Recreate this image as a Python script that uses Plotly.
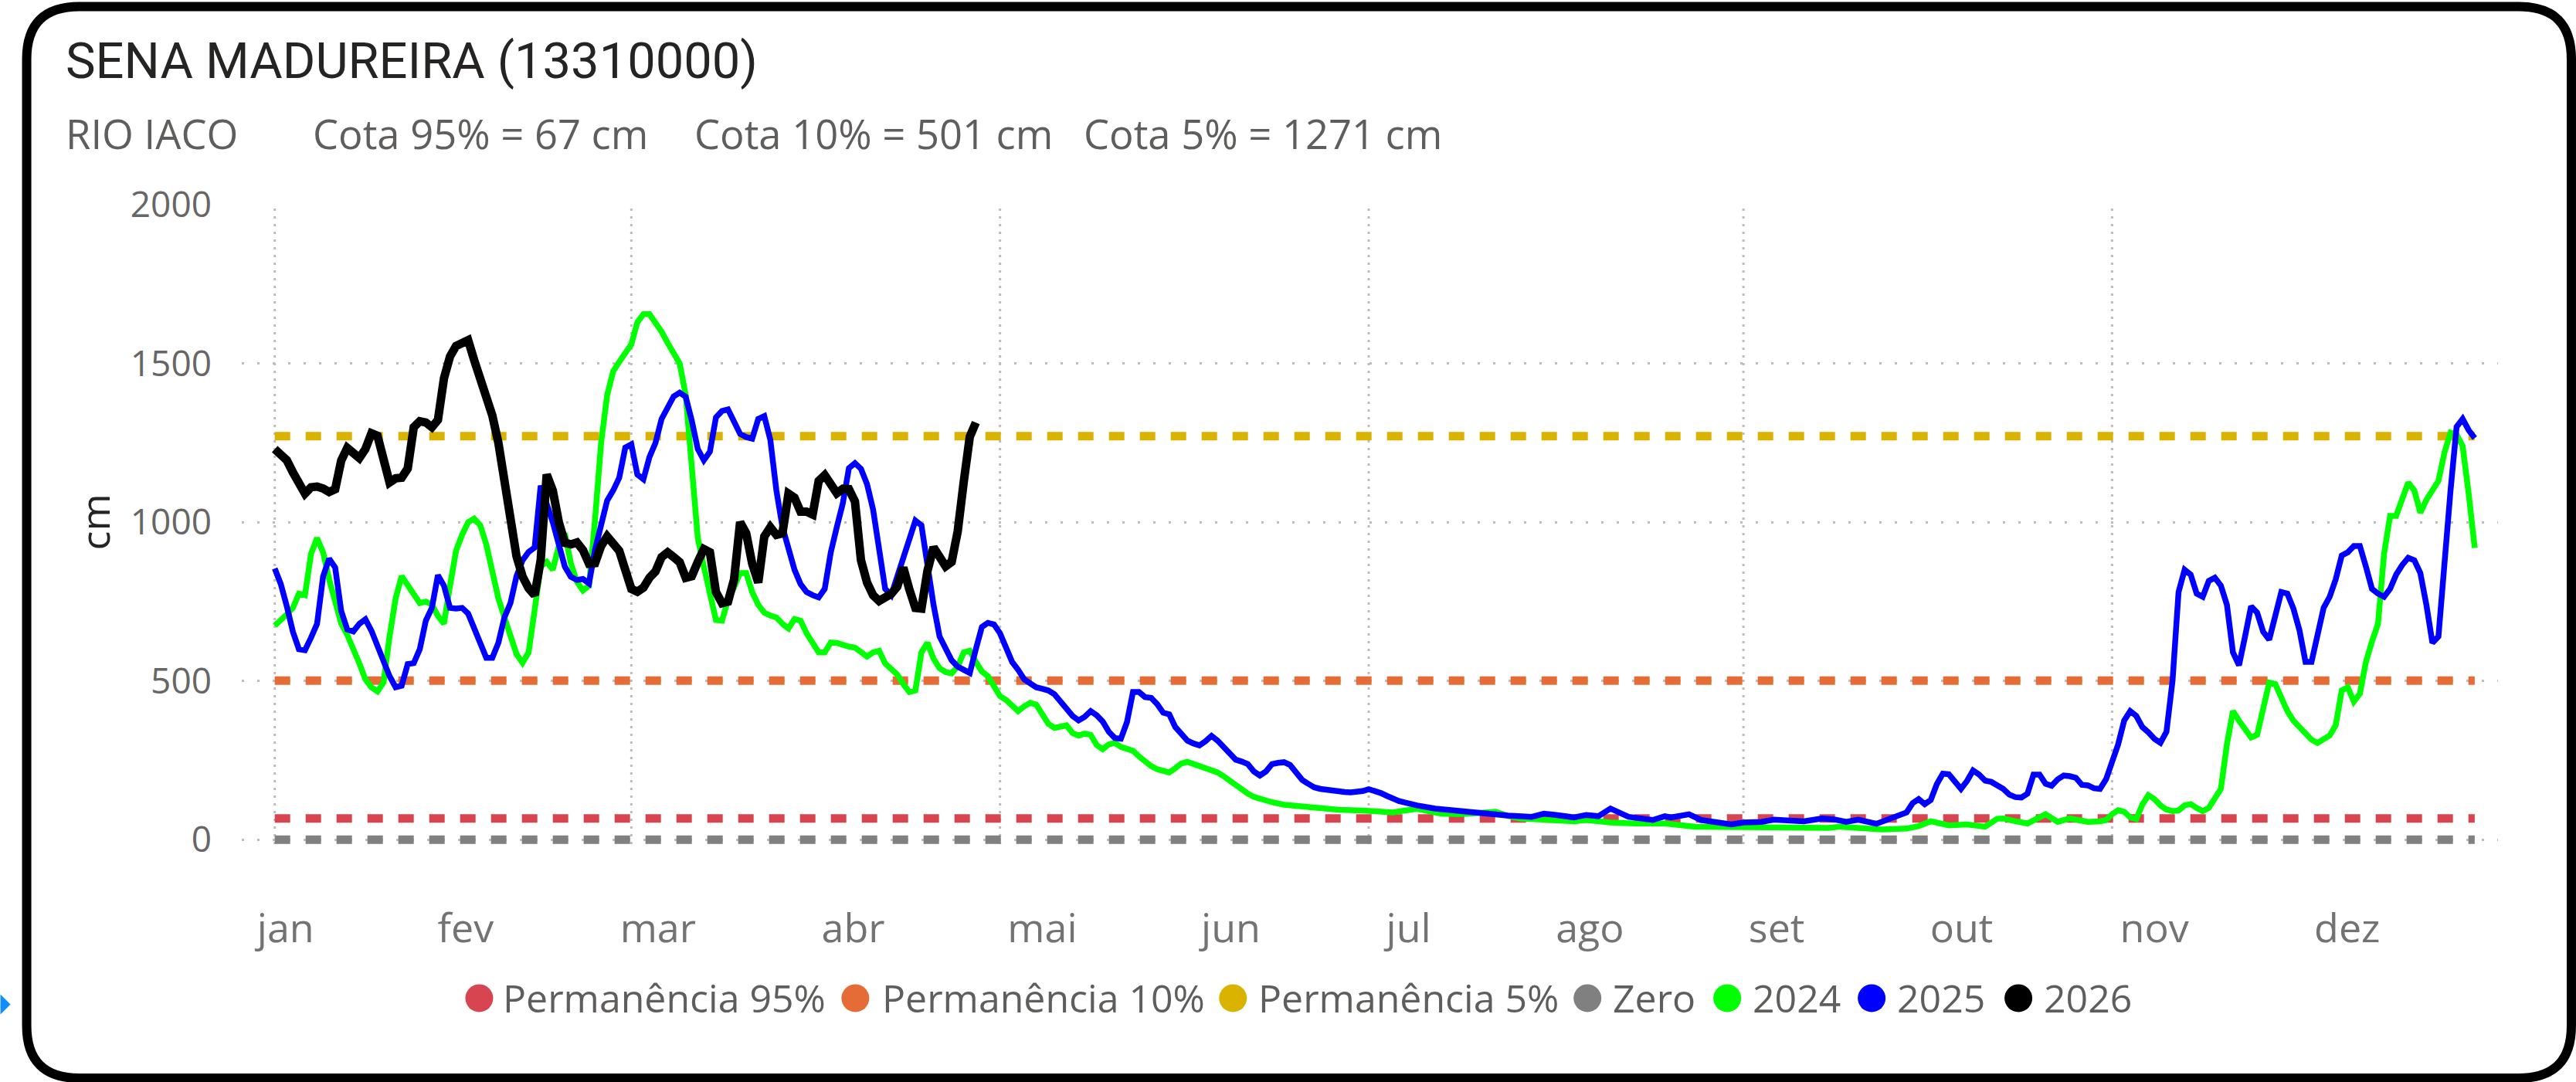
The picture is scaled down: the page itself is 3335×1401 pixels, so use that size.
import plotly.graph_objects as go
from datetime import datetime, timedelta

# ---------------------------------------------------------------- data
month_labels = ["jan", "fev", "mar", "abr", "mai", "jun", "jul", "ago", "set", "out", "nov", "dez"]
month_start_day = [0, 31, 59, 90, 120, 151, 181, 212, 243, 273, 304, 334]   # day offset from 1 Jan
label_center_day = [1.8, 31.6, 63.4, 95.7, 127.0, 158.2, 187.6, 217.6, 248.5, 279.1, 311.0, 342.9]
grid_month_day = month_start_day[::2]

ref_names = ["Permanência 95%", "Permanência 10%", "Permanência 5%", "Zero"]
ref_values = [67, 501, 1271, 0]
ref_colors = ["#D64550", "#E66C37", "#D9B300", "#808080"]
ref_first_day = 0
ref_last_day = 364

series_names = ["2024", "2025", "2026"]
series_colors = ["#00FF00", "#0000FF", "#000000"]

day_2024 = list(range(0, 164)) + [
    165, 167, 170, 173, 176, 180, 185, 187, 189, 193, 196, 199, 202, 204, 206, 211, 215, 217,
    221, 225, 230, 235, 240, 246, 249, 254, 257, 259, 262, 266, 270, 272, 274, 277, 280, 283,
    285, 286, 288, 290, 293, 295, 297, 298, 300, 302] + list(range(303, 365))
cm_2024 = [
    674, 690, 710, 730, 775, 770, 900, 950, 905, 820,
    745, 680, 645, 605, 555, 505, 480, 467, 495, 640,
    760, 830, 800, 770, 745, 750, 740, 705, 680, 800,
    910, 960, 1000, 1011, 990, 930, 840, 760, 700, 640,
    585, 557, 590, 723, 860, 875, 850, 925, 965, 870,
    812, 785, 800, 1010, 1250, 1400, 1475, 1505, 1530, 1560,
    1630, 1655, 1655, 1630, 1600, 1565, 1532, 1500, 1400, 1180,
    950, 860, 770, 692, 690, 755, 795, 840, 840, 780,
    740, 715, 706, 700, 680, 665, 695, 690, 650, 620,
    590, 590, 621, 620, 612, 608, 605, 591, 577, 590,
    595, 555, 540, 520, 490, 465, 470, 590, 620, 570,
    540, 528, 524, 545, 590, 595, 560, 530, 515, 480,
    452, 440, 420, 405, 420, 431, 425, 395, 365, 352,
    355, 360, 336, 328, 334, 330, 298, 285, 300, 305,
    292, 286, 280, 262, 245, 232, 222, 216, 212, 225,
    240, 245, 238, 232, 226, 220, 212, 200, 185, 170,
    157, 145, 135, 128,
    118, 110, 104, 98, 94, 92, 86, 92, 97, 82, 80, 84, 88, 75, 67, 62, 58, 62,
    54, 51, 51, 41, 40, 41, 41, 40, 37, 41, 37, 32, 35, 43, 58, 45, 48, 41,
    66, 67, 58, 51, 80, 56, 67, 64, 56, 58,
    62, 80, 93, 88, 70, 65, 110,
    140, 128, 108, 95, 90, 92, 108, 112, 100, 90,
    100, 130, 160, 300, 405, 375, 345, 322, 330, 420,
    495, 490, 445, 405, 375, 355, 333, 315, 305, 318,
    328, 360, 470, 480, 435, 460, 560, 624, 680, 900,
    1020, 1020, 1080, 1125, 1100, 1030, 1070, 1100, 1130, 1220,
    1282, 1276, 1240, 1090, 919]

day_2025 = list(range(0, 190)) + [
    192, 196, 200, 204, 208, 210, 212, 215, 217, 219, 221, 222, 224, 228, 230, 231, 234, 236,
    239, 241, 243, 246, 248, 251, 253, 256, 258, 260, 262, 265, 266, 268] + list(range(269, 365))
cm_2025 = [
    854, 805, 735, 655, 600, 597, 636, 680, 829, 885,
    857, 720, 662, 656, 680, 694, 658, 609, 565, 515,
    480, 485, 553, 556, 600, 690, 730, 833, 800, 730,
    728, 730, 712, 665, 625, 573, 573, 620, 700, 745,
    830, 880, 906, 920, 1115, 1060, 1000, 930, 860, 828,
    818, 821, 807, 914, 1000, 1068, 1100, 1140, 1235, 1245,
    1150, 1135, 1205, 1250, 1325, 1365, 1396, 1408, 1395, 1320,
    1230, 1195, 1222, 1330, 1350, 1355, 1312, 1278, 1268, 1263,
    1325, 1334, 1259, 1100, 985, 910, 850, 805, 780, 770,
    763, 790, 905, 985, 1060, 1170, 1186, 1168, 1120, 1040,
    920, 790, 770, 830, 880, 940, 1005, 990, 860, 740,
    640, 600, 565, 545, 534, 525, 600, 670, 683, 678,
    650, 600, 560, 535, 505, 492, 480, 475, 470, 458,
    436, 412, 390, 376, 387, 405, 392, 372, 340, 320,
    318, 370, 465, 465, 449, 447, 427, 400, 395, 355,
    335, 312, 303, 297, 310, 327, 312, 290, 268, 252,
    246, 238, 215, 202, 215, 238, 242, 244, 235, 210,
    188, 176, 165, 160, 157, 153, 151, 150, 149, 150,
    153, 159, 155, 147, 138, 128, 122, 117, 112, 108,
    98, 90, 82, 76, 72, 82, 78, 70, 78, 74, 98, 90, 72, 62, 74, 70, 80, 62,
    51, 48, 54, 56, 63, 61, 58, 67, 64, 56, 63, 50, 58, 74,
    80, 86, 115, 128, 112, 125, 175, 208, 206, 185, 160,
    185, 218, 205, 186, 182, 172, 160, 142, 134, 133,
    145, 205, 205, 176, 170, 190, 202, 200, 195, 173,
    171, 162, 160, 190, 245, 300, 375, 405, 390, 355,
    338, 318, 305, 340, 500, 780, 850, 835, 775, 765,
    815, 825, 800, 740, 590, 549, 640, 735, 715, 655,
    630, 700, 780, 775, 728, 660, 560, 560, 640, 730,
    765, 820, 895, 905, 925, 925, 860, 790, 775, 765,
    790, 835, 865, 888, 880, 840, 740, 620, 640, 880,
    1100, 1300, 1325, 1290, 1265]

day_2026 = list(range(0, 117))
cm_2026 = [
    1230, 1212, 1195, 1157, 1125, 1090, 1110, 1112, 1106, 1095,
    1104, 1194, 1234, 1214, 1202, 1230, 1280, 1272, 1194, 1125,
    1138, 1140, 1169, 1299, 1318, 1314, 1299, 1322, 1453, 1522,
    1555, 1568, 1573, 1510, 1455, 1400, 1336, 1250, 1129, 1007,
    893, 829, 792, 770, 880, 1150, 1100, 1000, 935, 930,
    936, 912, 869, 871, 925, 955, 935, 910, 850, 790,
    781, 794, 825, 845, 890, 905, 890, 874, 825, 830,
    875, 915, 905, 780, 745, 750, 820, 1000, 965, 869,
    810, 955, 984, 960, 965, 1090, 1077, 1033, 1033, 1024,
    1130, 1148, 1120, 1091, 1105, 1104, 1065, 880, 810, 770,
    752, 762, 774, 797, 857, 788, 730, 728, 847, 921,
    884, 861, 875, 971, 1127, 1269, 1314]

# ---------------------------------------------------------------- geometry / style
W, H = 3335, 1401
BASE = datetime(2026, 1, 1)
PLOT_L, PLOT_R = 312.5, 3234.0
Y_ZERO_PX, CM_PX = 1087.0, 0.4108
Y_MIN, Y_MAX = -14, 2000
PLOT_T = Y_ZERO_PX - Y_MAX * CM_PX
PLOT_B = Y_ZERO_PX - Y_MIN * CM_PX
PW, PH = PLOT_R - PLOT_L, PLOT_B - PLOT_T
DAY_PX = 7.826
X0_PX = 355.2

def to_date(d):
    return BASE + timedelta(days=d)

def px_x(p):
    return (p - PLOT_L) / PW

def px_y(p):
    return (PLOT_B - p) / PH

x_lo = to_date((PLOT_L - X0_PX) / DAY_PX)
x_hi = to_date((PLOT_R - X0_PX) / DAY_PX)

SANS = "Open Sans, Noto Sans, sans-serif"
GRID = "#BDBDBD"

fig = go.Figure()

for name, val, col in zip(ref_names, ref_values, ref_colors):
    fig.add_trace(go.Scatter(
        x=[to_date(ref_first_day), to_date(ref_last_day)], y=[val, val], mode="lines",
        name=name, line=dict(color=col, width=11, dash="20px,20px"),
        showlegend=False, hoverinfo="skip"))

for name, days, vals, col, w in zip(series_names, [day_2024, day_2025, day_2026],
                                    [cm_2024, cm_2025, cm_2026], series_colors, [7.5, 7.5, 11]):
    fig.add_trace(go.Scatter(
        x=[to_date(d) for d in days], y=vals, mode="lines", name=name,
        line=dict(color=col, width=w), showlegend=False, hoverinfo="skip"))

shapes = []
for d in grid_month_day:
    shapes.append(dict(type="line", xref="x", yref="paper", x0=to_date(d), x1=to_date(d),
                       y0=0, y1=1, layer="below",
                       line=dict(color=GRID, width=3, dash="3px,7px")))

# outer rounded border of the visual
bx1, bx2, by1, by2, r = 34, 3329, 9, 1395.5, 68
pts = [("M", bx1 + r, by1), ("L", bx2 - r, by1), ("Q", bx2, by1, bx2, by1 + r),
       ("L", bx2, by2 - r), ("Q", bx2, by2, bx2 - r, by2), ("L", bx1 + r, by2),
       ("Q", bx1, by2, bx1, by2 - r), ("L", bx1, by1 + r), ("Q", bx1, by1, bx1 + r, by1)]
path = ""
for p in pts:
    cmd, coords = p[0], p[1:]
    xy = []
    for i in range(0, len(coords), 2):
        xy.append(f"{px_x(coords[i]):.6f},{px_y(coords[i + 1]):.6f}")
    path += cmd + " ".join(xy) + " "
path += "Z"
shapes.append(dict(type="path", xref="paper", yref="paper", path=path,
                   line=dict(color="#000000", width=12), fillcolor="rgba(0,0,0,0)", layer="above"))

# small blue marker at the left edge
shapes.append(dict(type="path", xref="paper", yref="paper",
                   path=f"M{px_x(0):.6f},{px_y(1287):.6f} L{px_x(13):.6f},{px_y(1300):.6f} "
                        f"L{px_x(0):.6f},{px_y(1313):.6f} Z",
                   fillcolor="#118DFF", line=dict(width=0)))

# legend (Power BI style circles)
legend_labels = ref_names + series_names
legend_colors = ref_colors + series_colors
legend_circle_px = [620, 1107, 1596, 2055, 2236, 2423, 2613]
legend_text_px = [649, 1140, 1627, 2086, 2267, 2454, 2644]
LEG_Y, LEG_R = 1292, 18
annotations = []
for lab, col, cx, tx in zip(legend_labels, legend_colors, legend_circle_px, legend_text_px):
    shapes.append(dict(type="circle", xref="paper", yref="paper",
                       x0=px_x(cx - LEG_R), x1=px_x(cx + LEG_R),
                       y0=px_y(LEG_Y + LEG_R), y1=px_y(LEG_Y - LEG_R),
                       fillcolor=col, line=dict(width=0)))
    annotations.append(dict(text=lab, xref="paper", yref="paper", x=px_x(tx), y=px_y(LEG_Y),
                            xanchor="left", yanchor="middle", showarrow=False,
                            font=dict(family=SANS, size=50, color="#605E5C")))

# titles
annotations.append(dict(text="SENA MADUREIRA (13310000)", xref="paper", yref="paper",
                        x=px_x(82), y=px_y(80), xanchor="left", yanchor="middle", showarrow=False,
                        font=dict(family="Roboto, sans-serif", size=65, color="#252423")))
sub_texts = ["RIO IACO", "Cota 95% = 67 cm", "Cota 10% = 501 cm", "Cota 5% = 1271 cm"]
sub_px = [82, 403, 897, 1401]
for t, p in zip(sub_texts, sub_px):
    annotations.append(dict(text=t, xref="paper", yref="paper", x=px_x(p), y=px_y(173),
                            xanchor="left", yanchor="middle", showarrow=False,
                            font=dict(family=SANS, size=52.5, color="#605E5C")))
annotations.append(dict(text="cm", xref="paper", yref="paper", x=px_x(121), y=px_y(676),
                        xanchor="center", yanchor="middle", textangle=-90, showarrow=False,
                        font=dict(family=SANS, size=52, color="#252423")))

fig.update_layout(
    width=W, height=H,
    margin=dict(l=PLOT_L, r=W - PLOT_R, t=PLOT_T, b=H - PLOT_B, pad=0),
    paper_bgcolor="#FFFFFF", plot_bgcolor="#FFFFFF",
    showlegend=False,
    shapes=shapes, annotations=annotations,
    xaxis=dict(type="date", range=[x_lo, x_hi], showgrid=False, zeroline=False, showline=False,
               tickmode="array", tickvals=[to_date(d) for d in label_center_day],
               ticktext=month_labels, ticks="", ticklabelstandoff=74,
               tickfont=dict(family=SANS, size=52, color="#737373"), automargin=False),
    yaxis=dict(range=[Y_MIN, Y_MAX], tickmode="array", tickvals=[0, 500, 1000, 1500, 2000],
               showgrid=True, gridcolor=GRID, gridwidth=3, griddash="3px,17px",
               zeroline=False, showline=False, ticks="", ticklabelstandoff=38,
               tickfont=dict(family=SANS, size=46, color="#666666"), automargin=False),
)

fig.write_html("out.html", config={"displayModeBar": False},
               post_script="document.body.style.margin='0';document.body.style.overflow='hidden';")
